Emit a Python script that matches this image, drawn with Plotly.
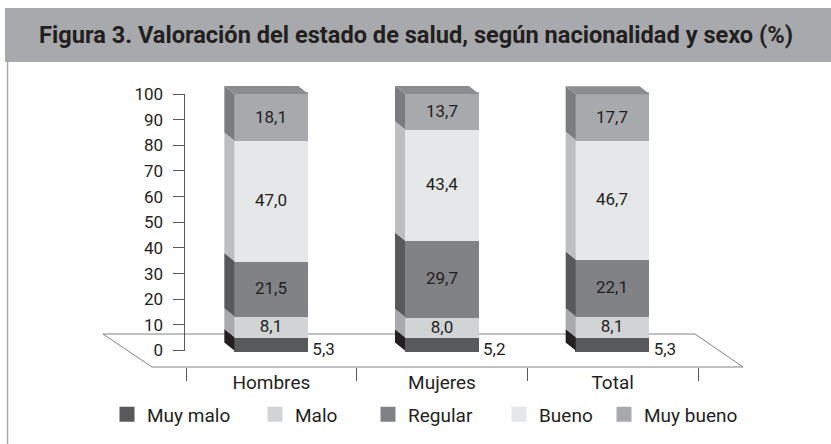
import plotly.graph_objects as go

# ---------------- data ----------------
categories = ["Hombres", "Mujeres", "Total"]
series_names = ["Muy malo", "Malo", "Regular", "Bueno", "Muy bueno"]
muy_malo = [5.3, 5.2, 5.3]
malo = [8.1, 8.0, 8.1]
regular = [21.5, 29.7, 22.1]
bueno = [47.0, 43.4, 46.7]
muy_bueno = [18.1, 13.7, 17.7]
y_tick_vals = [0, 10, 20, 30, 40, 50, 60, 70, 80, 90, 100]
title_text = "Figura 3. Valoración del estado de salud, según nacionalidad y sexo (%)"

series_values = [muy_malo, malo, regular, bueno, muy_bueno]
front_colors = ["#58595b", "#d1d3d4", "#808285", "#e6e7e8", "#a7a9ac"]
side_colors = ["#231f20", "#a7a9ac", "#58595b", "#bcbec0", "#7b7c7f"]
top_color = "#8b8c8f"
text_color = "#231f20"
axis_color = "#58595b"
FONT = "Roboto, 'Liberation Sans', sans-serif"

# ---------------- geometry (layout calibration) ----------------
W, H = 831, 444
PX_L, PX_R, PX_T, PX_B = 100, 750, 80, 372      # plot area in px
X0_PX, X_UNIT_PX = 271.33, 170.67               # px of category 0, px per category
Y0_PX, Y_UNIT_PX = 350.5, 2.565                 # px of value 0, px per unit
EDGE = 3                                        # same-colour outline (also enlarges legend keys)
BAR_W = (74 - EDGE) / X_UNIT_PX
FACE_HALF = 74 / 2 / X_UNIT_PX                  # visible half-width of the front face
DX = 10 / X_UNIT_PX                             # 3D depth shift (left)
DY = 8 / Y_UNIT_PX                              # 3D depth shift (up)
LABEL_GAP = 4 / X_UNIT_PX


def px_x(p):
    return (p - X0_PX) / X_UNIT_PX


def px_y(p):
    return (Y0_PX - p) / Y_UNIT_PX


xs = list(range(len(categories)))
x_range = [px_x(PX_L), px_x(PX_R)]
y_range = [px_y(PX_B), px_y(PX_T)]

fig = go.Figure()

# front faces: stacked bars
for i, (name, vals) in enumerate(zip(series_names, series_values)):
    fig.add_trace(go.Bar(
        x=xs, y=vals, name=name, width=BAR_W,
        marker=dict(color=front_colors[i], line=dict(width=EDGE, color=front_colors[i])),
        texttemplate="%{y:.1f}",
        textposition="none" if i == 0 else "inside",
        insidetextanchor="middle",
        textangle=0,
        constraintext="none",
        textfont=dict(family=FONT, size=17, color=text_color),
        legend="legend" if i == 0 else f"legend{i + 1}",
        hoverinfo="skip",
    ))

# side faces (depth) from the same stacked values
bases = [0.0] * len(xs)
for i, vals in enumerate(series_values):
    sx, sy = [], []
    for j, c in enumerate(xs):
        left = c - FACE_HALF
        y0, y1 = bases[j], bases[j] + vals[j]
        sx += [left, left, left - DX, left - DX, left, None]
        sy += [y0, y1, y1 + DY, y0 + DY, y0, None]
        bases[j] = y1
    fig.add_trace(go.Scatter(
        x=sx, y=sy, mode="lines", fill="toself", fillcolor=side_colors[i],
        line=dict(width=0), showlegend=False, hoverinfo="skip"))

# top faces
tx, ty = [], []
for j, c in enumerate(xs):
    left, right, top = c - FACE_HALF, c + FACE_HALF, bases[j]
    tx += [left, right, right - DX, left - DX, left, None]
    ty += [top, top, top + DY, top + DY, top, None]
fig.add_trace(go.Scatter(
    x=tx, y=ty, mode="lines", fill="toself", fillcolor=top_color,
    line=dict(width=0), showlegend=False, hoverinfo="skip"))

# labels for the first (small) segment, placed to the right of the bar
fig.add_trace(go.Scatter(
    x=[c + FACE_HALF + LABEL_GAP for c in xs], y=[0] * len(xs), customdata=muy_malo,
    mode="text", texttemplate="%{customdata:.1f}", textposition="middle right",
    textfont=dict(family=FONT, size=17, color=text_color),
    showlegend=False, hoverinfo="skip"))

# ---------------- decorations ----------------
floor_pts = [(103, 334), (695, 334), (743, 367), (152, 367)]
floor_path = "M " + " L ".join(f"{px_x(a):.4f},{px_y(b):.4f}" for a, b in floor_pts) + " Z"

shapes = [
    # title band
    dict(type="rect", xref="paper", yref="paper", x0=5 / W, x1=1, y0=1 - 62 / H, y1=1 - 8 / H,
         fillcolor="#a7a9ac", line=dict(width=0), layer="below"),
    # left frame line
    dict(type="line", xref="paper", yref="paper", x0=7.5 / W, x1=7.5 / W, y0=0, y1=1 - 62 / H,
         line=dict(color="#a7a9ac", width=1.5), layer="below"),
    # floor
    dict(type="path", xref="x", yref="y", path=floor_path,
         line=dict(color="#808285", width=1), fillcolor="rgba(0,0,0,0)", layer="below"),
    # value axis line
    dict(type="line", xref="paper", yref="y", x0=184.5 / W, x1=184.5 / W,
         y0=y_tick_vals[0], y1=y_tick_vals[-1], line=dict(color=axis_color, width=1)),
]

legend_centers = [130, 278, 391, 522, 627]
legends = {}
for i, cx in enumerate(legend_centers):
    key = "legend" if i == 0 else f"legend{i + 1}"
    legends[key] = dict(
        x=(cx - 23) / W, y=1 - 414.5 / H, xanchor="left", yanchor="middle",
        orientation="h", bgcolor="rgba(0,0,0,0)", borderwidth=0,
        font=dict(family=FONT, size=19, color=text_color))

fig.update_layout(
    width=W, height=H,
    margin=dict(l=0, r=0, t=0, b=0, autoexpand=False),
    paper_bgcolor="white", plot_bgcolor="white",
    separators=", ",
    barmode="stack", bargap=0,
    showlegend=True,
    uniformtext=dict(minsize=17, mode="show"),
    shapes=shapes,
    annotations=[dict(
        text=title_text, xref="paper", yref="paper", x=416 / W, y=1 - 35 / H,
        xanchor="center", yanchor="middle", showarrow=False,
        font=dict(family=FONT, size=23.6, color=text_color, weight="bold"))],
    xaxis=dict(
        domain=[PX_L / W, PX_R / W], range=x_range, anchor="free", position=1 - 367 / H,
        showline=False, showgrid=False, zeroline=False,
        tickmode="array", tickvals=xs, ticktext=categories, ticks="",
        ticklabelstandoff=2,
        tickfont=dict(family=FONT, size=19, color=text_color),
        minor=dict(tickmode="array", tickvals=[x - 0.5 for x in xs] + [xs[-1] + 0.5],
                   ticks="outside", ticklen=13, tickcolor=axis_color, tickwidth=1, showgrid=False),
    ),
    yaxis=dict(
        domain=[1 - PX_B / H, 1 - PX_T / H], range=y_range, anchor="free", position=184.5 / W,
        showline=False, showgrid=False, zeroline=False,
        tickmode="array", tickvals=y_tick_vals, ticks="outside", ticklen=12,
        tickcolor=axis_color, tickwidth=1, ticklabelstandoff=6,
        tickfont=dict(family=FONT, size=17, color=text_color),
    ),
    **legends,
)

# remove the browser's default page margin so figure pixels map 1:1 to the window
fig.write_html("out.html", config={"displayModeBar": False},
               post_script="document.body.style.margin='0px';")
